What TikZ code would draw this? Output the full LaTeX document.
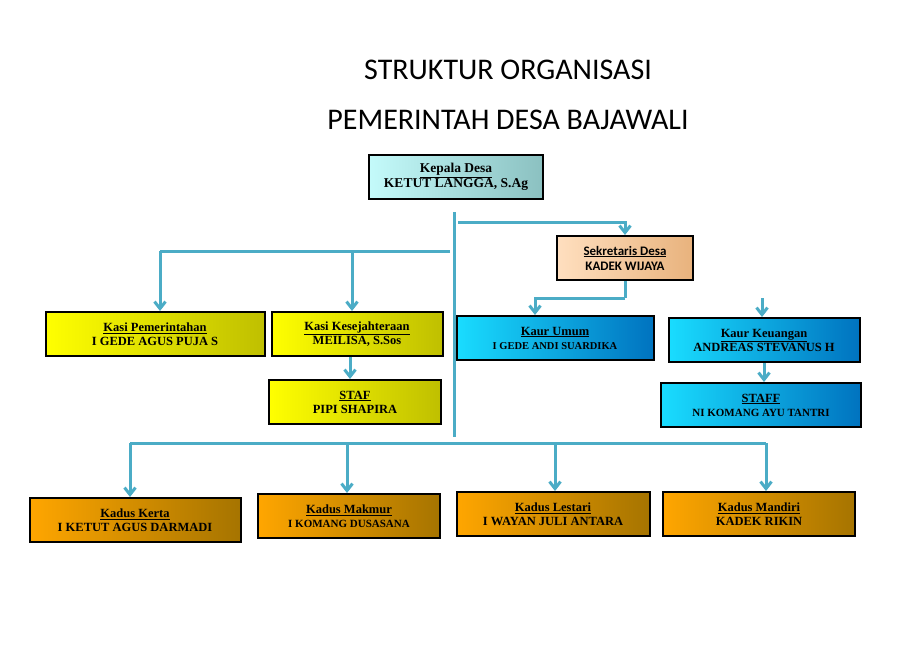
\documentclass[tikz,border=0pt]{standalone}
\usepackage{fontspec}
\setmainfont{Liberation Serif}
\newfontfamily\titlefont{Carlito}
\usetikzlibrary{arrows.meta}
\definecolor{linkblue}{HTML}{4BACC6}
\tikzset{
  box/.style={draw=black, line width=2pt, minimum height=44pt, align=center,
    font=\bfseries\fontsize{12.5}{14}\selectfont, inner sep=2pt},
  head/.style={box, left color=#1!55!white, right color=#1},
  link/.style={draw=linkblue, line width=3pt},
  arr/.style={link, -{Straight Barb[length=7pt,width=11pt]}},
}
\begin{document}
\begin{tikzpicture}[x=1pt,y=-1pt]
\useasboundingbox (0,0) rectangle (920,657);
  % Define title
  \node[font=\titlefont\fontsize{30}{34}\selectfont] (t1) at (508,70) {STRUKTUR ORGANISASI};
  \node[font=\titlefont\fontsize{30}{34}\selectfont] (t2) at (508,120) {PEMERINTAH DESA BAJAWALI};
  % Define nodes
  \node[box, minimum width=174pt, left color=gray!15!cyan!25!white, right color=cyan!30!gray!70!white, font=\bfseries\fontsize{13.5}{15}\selectfont] (kades) at (456,177) {\underline{Kepala Desa}\\KETUT LANGGA, S.Ag};
  \node[box, minimum width=136pt, left color=orange!25!white, right color=brown!60!orange!60!white, font=\titlefont\bfseries\fontsize{13}{15}\selectfont] (sekdes) at (625,258) {\underline{Sekretaris Desa}\\KADEK WIJAYA};
  \node[box, minimum width=219pt, left color=yellow, right color=yellow!75!black] (kpem) at (155,334) {\underline{Kasi Pemerintahan}\\I GEDE AGUS PUJA S};
  \node[box, minimum width=171pt, left color=yellow, right color=yellow!75!black] (kkes) at (357,334) {\underline{Kasi Kesejahteraan}\\MEILISA, S.Sos};
  \node[box, minimum width=172pt, left color=yellow, right color=yellow!75!black] (staf) at (355,402) {\underline{STAF}\\PIPI SHAPIRA};
  \node[box, minimum width=197pt, left color=cyan!85!blue!90!white, right color=cyan!60!blue!75!black] (kumum) at (555,338) {\underline{Kaur Umum}\\{\fontsize{10.5}{12}\selectfont I GEDE ANDI SUARDIKA}};
  \node[box, minimum width=191pt, left color=cyan!85!blue!90!white, right color=cyan!60!blue!75!black] (kkeu) at (764,340) {\underline{Kaur Keuangan}\\ANDREAS STEVANUS H};
  \node[box, minimum width=200pt, left color=cyan!85!blue!90!white, right color=cyan!60!blue!75!black] (stafk) at (761,405) {\underline{STAFF}\\{\fontsize{11}{12}\selectfont NI KOMANG AYU TANTRI}};
  \node[box, minimum width=211pt, left color=orange!70!yellow, right color=orange!60!yellow!65!black] (kerta) at (135,520) {\underline{Kadus Kerta}\\I KETUT AGUS DARMADI};
  \node[box, minimum width=182pt, left color=orange!70!yellow, right color=orange!60!yellow!65!black] (makmur) at (349,516) {\underline{Kadus Makmur}\\{\fontsize{11}{12}\selectfont I KOMANG DUSASANA}};
  \node[box, minimum width=193pt, left color=orange!70!yellow, right color=orange!60!yellow!65!black] (lestari) at (553,514) {\underline{Kadus Lestari}\\I WAYAN JULI ANTARA};
  \node[box, minimum width=192pt, left color=orange!70!yellow, right color=orange!60!yellow!65!black] (mandiri) at (759,514) {\underline{Kadus Mandiri}\\KADEK RIKIN};
  % Define junctions
  \coordinate (top) at (454,212);
  \coordinate (bot) at (454,437);
  \coordinate (lj) at (450,251);
  \coordinate (sj) at (625,298);
  \coordinate (bj) at (130,443);
  % Define edges
  \draw[link] (top) -- (bot);
  \draw[arr] (458,222) -| (sekdes.north);
  \draw[link] (lj) -- (160,251);
  \draw[arr] (160,251) -- (kpem.north -| 160,0);
  \draw[arr] (352,251) -- (kkes.north -| 352,0);
  \draw[link] (sekdes.south) -- (sj);
  \draw[arr] (762,298) -| (kkeu.north -| 762,0);
  \draw[arr] (sj) -| (kumum.north -| 535,0);
  \draw[arr] (kkes.south -| 350,0) -- (staf.north -| 350,0);
  \draw[arr] (kkeu.south) -- (stafk.north -| 764,0);
  \draw[link] (bj) -- (766,443);
  \draw[arr] (bj) -- (kerta.north -| 130,0);
  \draw[arr] (347,443) -- (makmur.north -| 347,0);
  \draw[arr] (555,443) -- (lestari.north -| 555,0);
  \draw[arr] (766,443) -- (mandiri.north -| 766,0);
\end{tikzpicture}
\end{document}
